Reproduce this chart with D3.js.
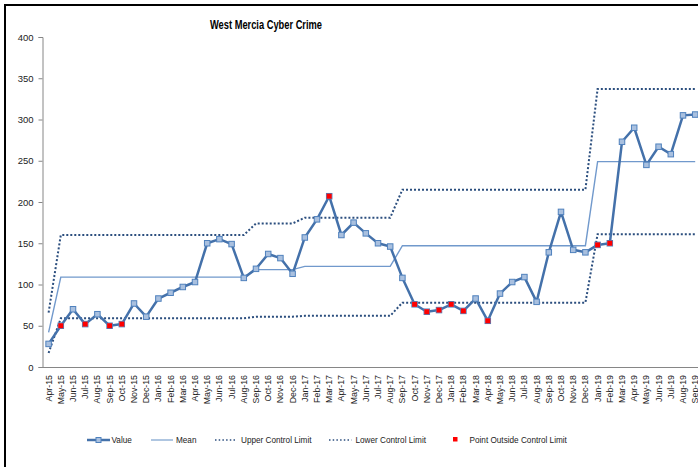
<!DOCTYPE html>
<html>
<head>
<meta charset="utf-8">
<script src="https://cdn.jsdelivr.net/npm/d3@7"></script>
<style>
  html, body { margin: 0; padding: 0; background: #fff; }
  svg { display: block; }
  text { font-family: "Liberation Sans", Arial, sans-serif; }
</style>
</head>
<body>
<svg id="chart" width="698" height="467"></svg>
<script>
const months = ["Apr-15","May-15","Jun-15","Jul-15","Aug-15","Sep-15","Oct-15","Nov-15","Dec-15",
  "Jan-16","Feb-16","Mar-16","Apr-16","May-16","Jun-16","Jul-16","Aug-16","Sep-16","Oct-16","Nov-16","Dec-16",
  "Jan-17","Feb-17","Mar-17","Apr-17","May-17","Jun-17","Jul-17","Aug-17","Sep-17","Oct-17","Nov-17","Dec-17",
  "Jan-18","Feb-18","Mar-18","Apr-18","May-18","Jun-18","Jul-18","Aug-18","Sep-18","Oct-18","Nov-18","Dec-18",
  "Jan-19","Feb-19","Mar-19","Apr-19","May-19","Jun-19","Jul-19","Aug-19","Sep-19"];

const values = [28,50,70,52,64,50,52,77,61,
  83,90,97,103,150,155,149,108,119,137,132,113,
  157,179,207,160,175,162,150,146,108,76,67,69,
  76,68,83,56,89,103,109,79,139,188,142,139,
  148,150,273,290,245,267,258,305,306];

const meanVals = [42,109,109,109,109,109,109,109,109,
  109,109,109,109,109,109,109,109,118,118,118,118,
  122,122,122,122,122,122,122,122,147,147,147,147,
  147,147,147,147,147,147,147,147,147,147,147,147,
  249,249,249,249,249,249,249,249,249];

const uclVals = [66,160,160,160,160,160,160,160,160,
  160,160,160,160,160,160,160,160,174,174,174,174,
  181,181,181,181,181,181,181,181,215,215,215,215,
  215,215,215,215,215,215,215,215,215,215,215,215,
  337,337,337,337,337,337,337,337,337];

const lclVals = [17,59,59,59,59,59,59,59,59,
  59,59,59,59,59,59,59,59,61,61,61,61,
  62,62,62,62,62,62,62,62,78,78,78,78,
  78,78,78,78,78,78,78,78,78,78,78,78,
  161,161,161,161,161,161,161,161,161];

const yTicks = [0,50,100,150,200,250,300,350,400];

const legendItems = ["Value","Mean","Upper Control Limit","Lower Control Limit","Point Outside Control Limit"];

const svg = d3.select("#chart");

// outer chart border
svg.append("rect").attr("x",5).attr("y",5).attr("width",800).attr("height",600)
  .attr("fill","none").attr("stroke","#000").attr("stroke-width",2);

const x = d3.scaleBand().domain(months).range([42.5, 701.3]);
const cx = d => x(d) + x.bandwidth()/2;
const y = d3.scaleLinear().domain([0,400]).range([367,37]);

// title
svg.append("text").attr("x",266).attr("y",29).attr("text-anchor","middle")
  .attr("font-size",12).attr("font-weight","bold").attr("fill","#000")
  .attr("textLength",112).attr("lengthAdjust","spacingAndGlyphs")
  .text("West Mercia Cyber Crime");

// y axis
const yAxis = svg.append("g").attr("transform","translate(42.5,0)")
  .call(d3.axisLeft(y).tickValues(yTicks).tickSize(4).tickPadding(5));
yAxis.select(".domain").attr("stroke","#868686");
yAxis.selectAll(".tick line").attr("stroke","#868686");
yAxis.selectAll(".tick text").attr("font-size",9.5).attr("fill","#222")
  .style("font-family","'Liberation Sans', Arial, sans-serif");

// x axis
const xAxis = svg.append("g").attr("transform","translate(0,367)")
  .call(d3.axisBottom(x).tickSize(0).tickPadding(0));
xAxis.select(".domain").attr("stroke","#868686");
xAxis.selectAll(".tick text")
  .attr("font-size",8.8).attr("fill","#222")
  .style("font-family","'Liberation Sans', Arial, sans-serif")
  .attr("text-anchor","end")
  .attr("transform","translate(3,8) rotate(-90)")
  .attr("x",0).attr("y",0).attr("dy","0");

const lineGen = arr => d3.line().x((d,i) => cx(months[i])).y(d => y(d))(arr);

// mean
svg.append("path").attr("d", lineGen(meanVals)).attr("fill","none")
  .attr("stroke","#7199CC").attr("stroke-width",1.4);
// control limits
[uclVals, lclVals].forEach(arr => {
  svg.append("path").attr("d", lineGen(arr)).attr("fill","none")
    .attr("stroke","#2B4E7E").attr("stroke-width",2)
    .attr("stroke-dasharray","2,2");
});
// value line
svg.append("path").attr("d", lineGen(values)).attr("fill","none")
  .attr("stroke","#4471AA").attr("stroke-width",2.5).attr("stroke-linejoin","round");
// markers
const ms = 5.5;
svg.append("g").selectAll("rect").data(values).join("rect")
  .attr("x",(d,i) => cx(months[i]) - ms/2).attr("y", d => y(d) - ms/2)
  .attr("width",ms).attr("height",ms)
  .attr("fill","#A9C0DF").attr("stroke","#4F81BD").attr("stroke-width",1);
// outside points
const rs = 5;
const outside = values.map((v,i) => (v > uclVals[i] || v < lclVals[i]));
svg.append("g").selectAll("rect")
  .data(values.map((v,i)=>({v,i})).filter(o=>outside[o.i]))
  .join("rect")
  .attr("x", o => cx(months[o.i]) - rs/2).attr("y", o => y(o.v) - rs/2)
  .attr("width",rs).attr("height",rs).attr("fill","#FF0000");

// legend
const ly = 440;
const lg = svg.append("g").attr("font-size",8.2).attr("fill","#222");
// Value
lg.append("line").attr("x1",87).attr("x2",110).attr("y1",ly).attr("y2",ly)
  .attr("stroke","#4471AA").attr("stroke-width",2.5);
lg.append("rect").attr("x",98.5-2.5).attr("y",ly-2.5).attr("width",5).attr("height",5)
  .attr("fill","#A9C0DF").attr("stroke","#4F81BD");
lg.append("text").attr("x",111.5).attr("y",ly+3).text(legendItems[0]);
// Mean
lg.append("line").attr("x1",151).attr("x2",173).attr("y1",ly).attr("y2",ly)
  .attr("stroke","#95B3D7").attr("stroke-width",1.5);
lg.append("text").attr("x",176).attr("y",ly+3).text(legendItems[1]);
// UCL
lg.append("line").attr("x1",215).attr("x2",237).attr("y1",ly).attr("y2",ly)
  .attr("stroke","#2B4E7E").attr("stroke-width",1.5).attr("stroke-dasharray","1.5,2.2");
lg.append("text").attr("x",241).attr("y",ly+3).text(legendItems[2]);
// LCL
lg.append("line").attr("x1",329).attr("x2",351.5).attr("y1",ly).attr("y2",ly)
  .attr("stroke","#2B4E7E").attr("stroke-width",1.5).attr("stroke-dasharray","1.5,2.2");
lg.append("text").attr("x",355.5).attr("y",ly+3).text(legendItems[3]);
// outside
lg.append("rect").attr("x",453).attr("y",ly-3).attr("width",4.5).attr("height",4.5).attr("fill","#FF0000");
lg.append("text").attr("x",469.5).attr("y",ly+3).text(legendItems[4]);
</script>
</body>
</html>
